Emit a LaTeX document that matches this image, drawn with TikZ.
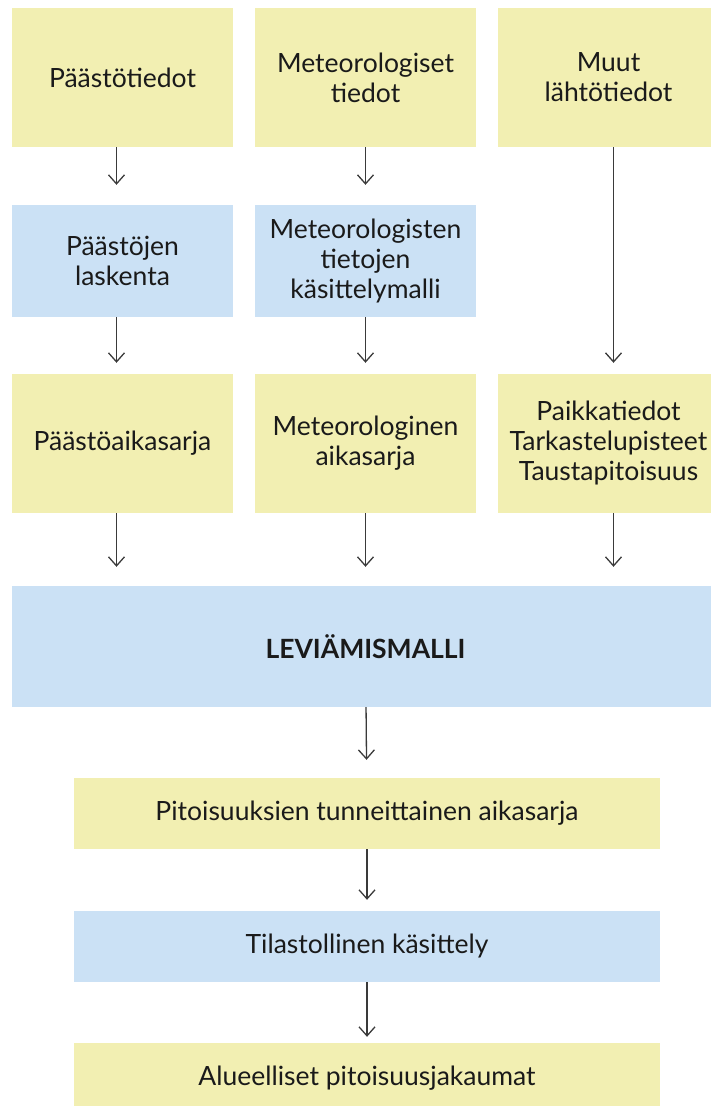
\documentclass[tikz,border=0pt]{standalone}
\usepackage{fontspec}
\setmainfont{Lato}
\usetikzlibrary{positioning, arrows.meta, calc}
\definecolor{inputyellow}{HTML}{F2EFB2}
\definecolor{modelblue}{HTML}{CBE1F5}
\definecolor{arrowgray}{HTML}{3A3A3A}
\definecolor{textdark}{HTML}{1A1A1A}

\begin{document}
\begin{tikzpicture}[x=1pt, y=-1pt,
	yellowbox/.style={fill=inputyellow, text=textdark, align=center, inner sep=0,
		font=\fontsize{26.5}{30}\selectfont},
	bluebox/.style={fill=modelblue, text=textdark, align=center, inner sep=0,
		font=\fontsize{26.5}{30}\selectfont},
	flow/.style={-{Straight Barb[length=9pt, width=16pt]}, draw=arrowgray, line width=1.3pt}]
	\useasboundingbox (0,0) rectangle (710,1106);
	
	% Input data
	\node[yellowbox, minimum width = 221, minimum height = 139] (paasto) at (122.5,77.5) {Päästötiedot};
	\node[yellowbox, minimum width = 221, minimum height = 139] (meteo) at ($(paasto) + (243,0)$) {Meteorologiset\\tiedot};
	\node[yellowbox, minimum width = 221, minimum height = 139] (muut) at ($(paasto) + (486,0)$) {Muut\\lähtötiedot};
	
	% Preprocessing
	\node[bluebox, minimum width = 221, minimum height = 112] (laskenta) at ($(paasto) + (0,183.5)$) {Päästöjen\\laskenta};
	\node[bluebox, minimum width = 221, minimum height = 112] (kasittely) at ($(paasto) + (243,183.5)$) {Meteorologisten\\tietojen\\käsittelymalli};
	
	% Time series
	\node[yellowbox, minimum width = 221, minimum height = 139] (paastosarja) at ($(paasto) + (0,366)$) {Päästöaikasarja};
	\node[yellowbox, minimum width = 221, minimum height = 139] (meteosarja) at ($(paasto) + (243,366)$) {Meteorologinen\\aikasarja};
	\node[yellowbox, minimum width = 221, minimum height = 139] (paikka) at ($(paasto) + (486,366)$) {Paikkatiedot\\Tarkastelupisteet\\Taustapitoisuus};
	
	% Model
	\node[bluebox, minimum width = 707, minimum height = 121, font=\fontsize{26.5}{30}\selectfont\bfseries] (malli) at (365.5,646.5) {LEVIÄMISMALLI};
	
	% Results
	\node[yellowbox, minimum width = 586, minimum height = 71] (tunti) at ($(malli) + (1.5,167)$) {Pitoisuuksien tunneittainen aikasarja};
	\node[bluebox, minimum width = 586, minimum height = 71] (tilasto) at ($(malli) + (1.5,300)$) {Tilastollinen käsittely};
	\node[yellowbox, minimum width = 586, minimum height = 71] (jakauma) at ($(malli) + (1.5,432)$) {Alueelliset pitoisuusjakaumat};
	
	% Connections
	\draw[flow, shorten >=20] ([xshift=-6]paasto.south) -- ([xshift=-6]laskenta.north);
	\draw[flow, shorten >=20] (meteo) -- (kasittely);
	\draw[flow, shorten >=11] ([xshift=5]muut.south) -- ([xshift=5]paikka.north);
	
	\draw[flow, shorten >=11] ([xshift=-6]laskenta.south) -- ([xshift=-6]paastosarja.north);
	\draw[flow, shorten >=11] (kasittely) -- (meteosarja);
	
	\draw[flow, shorten >=19] ([xshift=-6]paastosarja.south) -- ([xshift=-6]paastosarja.south |- malli.north);
	\draw[flow, shorten >=19] (meteosarja) -- (meteosarja |- malli.north);
	\draw[flow, shorten >=19] ([xshift=5]paikka.south) -- ([xshift=5]paikka.south |- malli.north);
	
	\draw[flow, shorten >=18] (malli) -- (tunti);
	\draw[flow, shorten >=11] (tunti) -- (tilasto);
	\draw[flow, shorten >=6] (tilasto) -- (jakauma);
\end{tikzpicture}
\end{document}
